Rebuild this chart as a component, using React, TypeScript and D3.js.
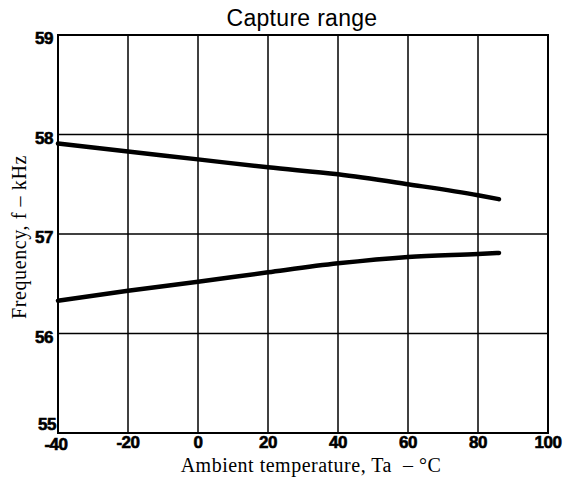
import React from "react";
import * as d3 from "d3";

const xTicks = [-40, -20, 0, 20, 40, 60, 80, 100];
const yTicks = [55, 56, 57, 58, 59];
const upperTemp = [-40, -20, 0, 20, 40, 60, 80, 86];
const upperFreq = [57.91, 57.83, 57.75, 57.67, 57.6, 57.5, 57.39, 57.35];
const lowerTemp = [-40, -20, 0, 20, 40, 60, 80, 86];
const lowerFreq = [56.33, 56.43, 56.52, 56.615, 56.705, 56.77, 56.8, 56.81];

const W = 567;
const H = 488;
const m = { left: 58, right: 548, top: 35, bottom: 433 };

export default function App() {
  const x = d3.scaleLinear().domain([-40, 100]).range([m.left, m.right]);
  const y = d3.scaleLinear().domain([55, 59]).range([m.bottom, m.top]);
  const line = d3
    .line<[number, number]>()
    .x((d) => x(d[0]))
    .y((d) => y(d[1]))
    .curve(d3.curveMonotoneX);
  const up = upperTemp.map((t, i) => [t, upperFreq[i]] as [number, number]);
  const lo = lowerTemp.map((t, i) => [t, lowerFreq[i]] as [number, number]);
  const tickFont = "'Liberation Sans', Arial, sans-serif";
  const serif = "'Liberation Serif', 'Times New Roman', serif";
  return (
    <svg
      width={W}
      height={H}
      style={{ position: "absolute", left: 0, top: 0, background: "#fff" }}
    >
      <rect x={0} y={0} width={W} height={H} fill="#fff" />
      {xTicks.map((t) => (
        <line key={"gx" + t} x1={x(t)} x2={x(t)} y1={y(55)} y2={y(59)} stroke="#000" strokeWidth={1.5} />
      ))}
      {yTicks.map((t) => (
        <line key={"gy" + t} x1={x(-40)} x2={x(100)} y1={y(t)} y2={y(t)} stroke="#000" strokeWidth={1.5} />
      ))}
      <rect x={m.left} y={m.top} width={m.right - m.left} height={m.bottom - m.top} fill="none" stroke="#000" strokeWidth={2} />
      <path d={line(up) || ""} fill="none" stroke="#000" strokeWidth={4.5} strokeLinecap="round" />
      <path d={line(lo) || ""} fill="none" stroke="#000" strokeWidth={4.5} strokeLinecap="round" />
      {xTicks.map((t) => (
        <text
          key={"tx" + t}
          x={t === -40 ? x(t) - 2 : x(t)}
          y={y(55) + (t === -40 ? 17 : 15)}
          textAnchor="middle"
          fontFamily={tickFont}
          fontWeight="bold"
          fontSize={17}
          letterSpacing={-0.5}
          stroke="#000"
          strokeWidth={0.6}
        >
          {String(t)}
        </text>
      ))}
      {yTicks.map((t) => (
        <text
          key={"ty" + t}
          x={t === 55 ? m.left - 2 : m.left - 5}
          y={t === 55 ? y(t) - 3 : y(t) + 9}
          textAnchor="end"
          fontFamily={tickFont}
          fontWeight="bold"
          fontSize={17}
          letterSpacing={-0.5}
          stroke="#000"
          strokeWidth={0.6}
        >
          {String(t)}
        </text>
      ))}
      <text x={302} y={26} textAnchor="middle" fontFamily="'Liberation Sans', Arial, sans-serif" fontSize={23} letterSpacing={0.3}>
        Capture range
      </text>
      <text x={311} y={472} textAnchor="middle" fontFamily={serif} fontSize={20} letterSpacing={0.5}>
        Ambient temperature, Ta {"\u00a0"}– °C
      </text>
      <text
        transform={`translate(26, 237) rotate(-90)`}
        textAnchor="middle"
        fontFamily={serif}
        fontSize={20}
        letterSpacing={0.6}
      >
        Frequency, f – kHz
      </text>
    </svg>
  );
}
